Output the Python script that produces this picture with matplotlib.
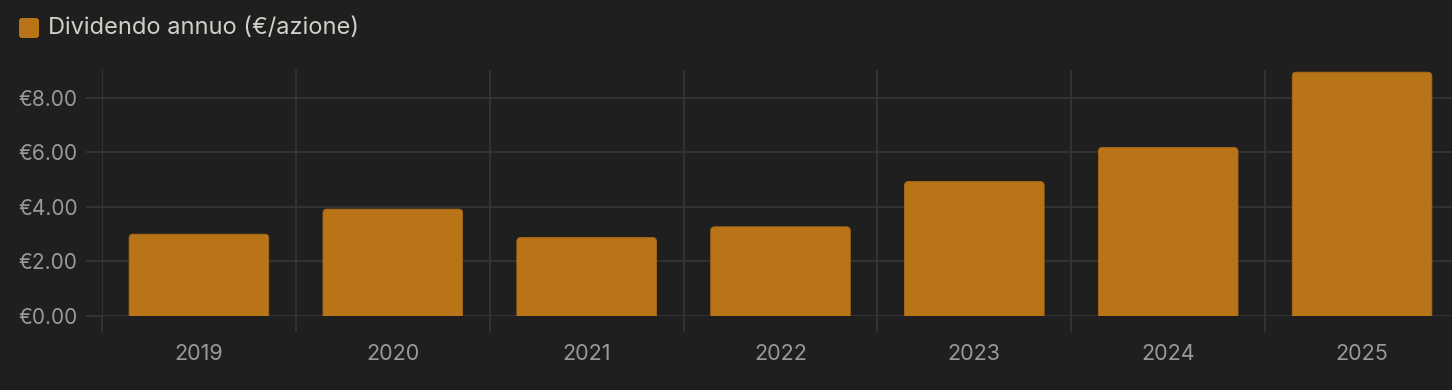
import matplotlib
matplotlib.use('Agg')
import matplotlib.pyplot as plt
from matplotlib.patches import FancyBboxPatch

# data
years = ['2019', '2020', '2021', '2022', '2023', '2024', '2025']
dividends = [3.00, 3.92, 2.88, 3.27, 4.93, 6.18, 8.94]
y_ticks = [0, 2, 4, 6, 8]
series_name = 'Dividendo annuo (€/azione)'

BG = '#1f1f1f'
GRID = '#353535'
BAR = '#b97417'
TICK_TXT = '#9a9a9a'
LEGEND_TXT = '#d3cfc7'

plt.rcParams['font.family'] = ['Inter', 'DejaVu Sans']

W, H = 1452, 390
fig = plt.figure(figsize=(W / 100, H / 100), dpi=100, facecolor=BG)
ax = fig.add_axes([102 / W, 1 - 316 / H, (1459 - 102) / W, (316 - 70) / H])
ax.set_facecolor(BG)

n = len(years)
ax.set_xlim(-0.5, n - 0.5)
ax.set_ylim(0, 9.02)

# grid lines
ax.set_yticks(y_ticks)
ax.set_yticklabels([f'€{v:.2f}' for v in y_ticks])
ax.set_xticks(range(n))
ax.set_xticklabels(years)
ax.set_xticks([i - 0.5 for i in range(n + 1)], minor=True)
ax.grid(axis='y', which='major', color=GRID, linewidth=1.3)
ax.grid(axis='x', which='minor', color=GRID, linewidth=1.3)
ax.set_axisbelow(True)

ax.tick_params(axis='y', which='major', length=11.5, width=1.3, color=GRID,
               labelcolor=TICK_TXT, labelsize=15, pad=6)
ax.tick_params(axis='x', which='major', length=0, labelcolor=TICK_TXT,
               labelsize=15.5, pad=20)
ax.tick_params(axis='x', which='minor', length=11.5, width=1.3, color=GRID)
for s in ax.spines.values():
    s.set_visible(False)

# bars with rounded top corners
bar_w = 0.72
r_x = 4 / 194
r_y = 4 / 27.25
bars = ax.bar(range(n), dividends, width=bar_w, color=BAR)
for b in bars:
    x0, h = b.get_x(), b.get_height()
    b.set_visible(False)
    p = FancyBboxPatch((x0, -r_y), bar_w, h + r_y,
                       boxstyle=f'round,pad=0,rounding_size={r_x}',
                       mutation_aspect=r_y / r_x,
                       facecolor=BAR, edgecolor='#a86b1a', linewidth=0.6,
                       zorder=3)
    ax.add_patch(p)

# legend
fig.patches.append(FancyBboxPatch((19 / W, 1 - 38 / H), 20 / W, 20 / H,
                                  boxstyle='round,pad=0,rounding_size=0.002',
                                  mutation_aspect=W / H,
                                  transform=fig.transFigure,
                                  facecolor=BAR, edgecolor='none'))
fig.text(48 / W, 1 - 28 / H, series_name, color=LEGEND_TXT, fontsize=17,
         va='center', ha='left')

fig.savefig('out.png', dpi=100, facecolor=BG)
